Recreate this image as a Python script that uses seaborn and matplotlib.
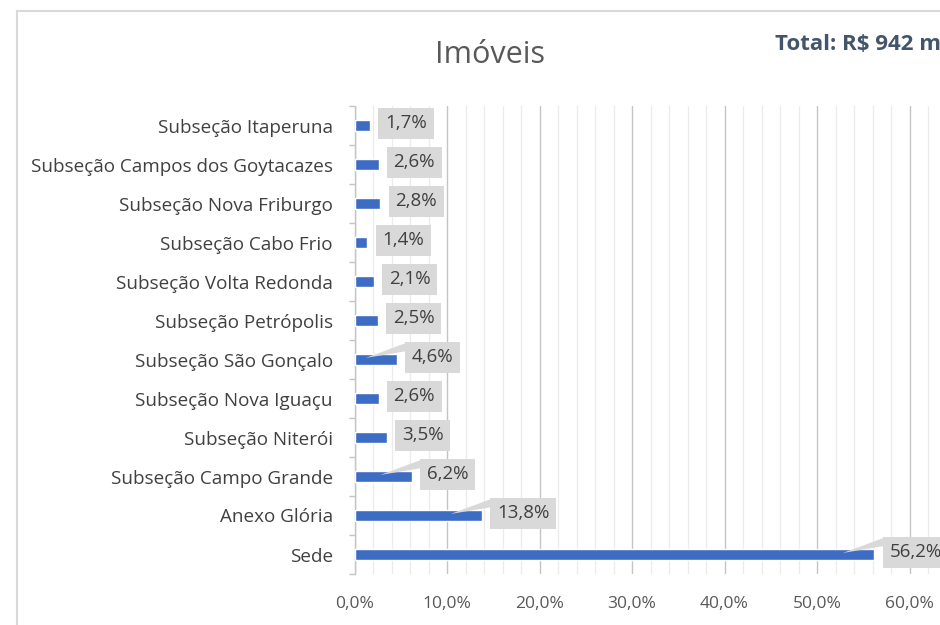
import matplotlib
matplotlib.use("Agg")
import matplotlib.pyplot as plt
from matplotlib.patches import Rectangle
from matplotlib.ticker import MultipleLocator, FixedLocator, FuncFormatter
from matplotlib.transforms import offset_copy
import seaborn as sns
import pandas as pd

categorias = [
    "Subseção Itaperuna",
    "Subseção Campos dos Goytacazes",
    "Subseção Nova Friburgo",
    "Subseção Cabo Frio",
    "Subseção Volta Redonda",
    "Subseção Petrópolis",
    "Subseção São Gonçalo",
    "Subseção Nova Iguaçu",
    "Subseção Niterói",
    "Subseção Campo Grande",
    "Anexo Glória",
    "Sede",
]
percentuais = [1.7, 2.6, 2.8, 1.4, 2.1, 2.5, 4.6, 2.6, 3.5, 6.2, 13.8, 56.2]
ticks_x = [0, 10, 20, 30, 40, 50, 60]
titulo = "Imóveis"
total_txt = "Total: R$ 942 mil"

df = pd.DataFrame({"categoria": categorias, "pct": percentuais})

sns.set_theme(style="white")
plt.rcParams["font.family"] = ["Open Sans", "DejaVu Sans"]

fig = plt.figure(figsize=(9.4, 6.25), dpi=100)
W, H = 940, 625
ax = fig.add_axes([354.5 / W, 1 - 574 / H, (1002 - 354.5) / W, (574 - 106) / H])

sns.barplot(data=df, x="pct", y="categoria", orient="h", color="#3d6cc4",
            saturation=1, width=0.3, ax=ax, zorder=3)

ax.set_xlim(0, 70)
ax.set_ylim(11.5, -0.5)
ax.xaxis.set_major_locator(FixedLocator(ticks_x))
ax.xaxis.set_minor_locator(MultipleLocator(2))
ax.xaxis.set_major_formatter(FuncFormatter(lambda v, p: f"{v:.1f}%".replace(".", ",")))
ax.grid(which="major", axis="x", color="#c4c4c4", linewidth=1.0, zorder=0)
ax.grid(which="minor", axis="x", color="#ebebeb", linewidth=0.9, zorder=0)
ax.axvline(70, color="#c4c4c4", lw=1.0, zorder=0)
ax.set_axisbelow(True)

for s in ["top", "right", "bottom"]:
    ax.spines[s].set_visible(False)
ax.spines["left"].set_color("#c4c4c4")
ax.spines["left"].set_linewidth(1.0)

ax.yaxis.set_minor_locator(FixedLocator([i + 0.5 for i in range(-1, 12)]))
ax.tick_params(axis="y", which="major", length=0, pad=15.5, labelsize=13.6,
               labelcolor="#404040")
ax.tick_params(axis="y", which="minor", length=4, color="#c4c4c4", width=1,
               direction="out", left=True)
ax.tick_params(axis="x", which="both", length=0, pad=16, labelsize=12.5,
               labelcolor="#595959")
ax.set_xlabel("")
ax.set_ylabel("")

# rótulos de dados: caixa cinza à direita da barra, com seta em cunha
cinza = "#d9d9d9"
for i, v in enumerate(percentuais):
    txt = f"{v:.1f}%".replace(".", ",")
    pos_txt = offset_copy(ax.transData, fig=fig, x=10.8, y=1.5, units="points")
    ax.text(v, i, txt, transform=pos_txt, ha="left", va="center",
            fontsize=13.5, color="#404040", zorder=5,
            bbox=dict(boxstyle="square,pad=0.36", fc=cinza, ec="none"))
    if v > 4:
        base = offset_copy(ax.transData, fig=fig, x=8, y=0, units="points")
        ax.annotate(
            "", xy=(v - 3.4, i - 0.04), xytext=(v, i - 0.33), textcoords=base,
            arrowprops=dict(arrowstyle="wedge,tail_width=0.3,shrink_factor=0.5",
                            mutation_scale=20, fc=cinza, ec="none",
                            shrinkA=0, shrinkB=0),
            zorder=4, annotation_clip=False,
        )

fig.text(490 / W, 1 - 55 / H, titulo, ha="center", va="center", fontsize=22,
         color="#595959")
fig.text(775 / W, 1 - 45 / H, total_txt, ha="left", va="center", fontsize=16,
         fontweight="bold", color="#44546a")

# moldura do gráfico
fig.patches.append(Rectangle((17 / W, -0.5), 2, 1.5 - 11 / H,
                             transform=fig.transFigure, fill=False,
                             ec="#d9d9d9", lw=1.5))

fig.savefig("out.png", dpi=100)
